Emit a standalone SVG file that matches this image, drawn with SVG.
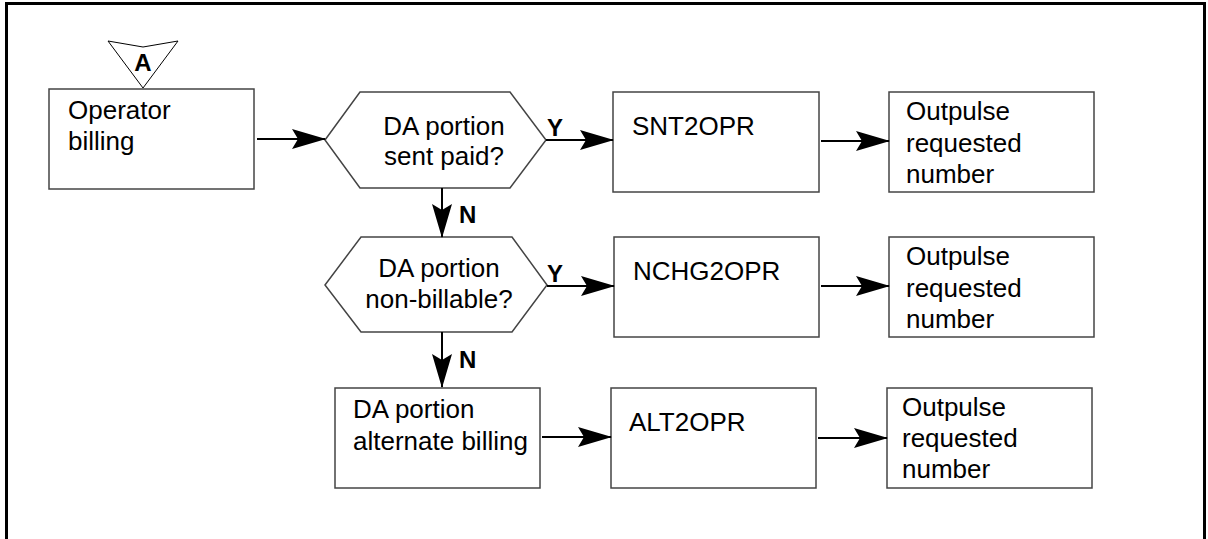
<svg xmlns="http://www.w3.org/2000/svg" width="1208" height="539" viewBox="0 0 1208 539">
<style>
.box{fill:#fff;stroke:#444;stroke-width:1.5}
.t{font-family:"Liberation Sans",Arial,sans-serif;font-size:26px;fill:#000}
.b{font-family:"Liberation Sans",Arial,sans-serif;font-size:24px;font-weight:bold;fill:#000}
.c{stroke:#000;stroke-width:2;fill:none;marker-end:url(#ah)}
</style>
<defs>
<marker id="ah" viewBox="0 0 34 22" refX="33" refY="11" markerWidth="34" markerHeight="22" markerUnits="userSpaceOnUse" orient="auto">
<path d="M0,1 L34,11 L0,21 L6,11 Z" fill="#000"/>
</marker>
</defs>
<rect x="6.5" y="3.5" width="1198" height="560" fill="#fff" stroke="#000" stroke-width="3"/>

<g id="connector-A">
<polygon points="108,41 143,47 178,41 143,88" fill="#fff" stroke="#000" stroke-width="1"/>
<text class="b" x="143" y="71" text-anchor="middle">A</text>
</g>

<g id="operator-billing">
<rect class="box" x="49" y="89" width="205" height="100"/>
<text class="t" x="68" y="119">Operator</text>
<text class="t" x="68" y="150">billing</text>
</g>

<g id="decision-sent-paid">
<polygon class="box" points="325,140 360,92 510,92 546,140 510,188 360,188"/>
<text class="t" x="444" y="135" text-anchor="middle">DA portion</text>
<text class="t" x="444" y="165" text-anchor="middle">sent paid?</text>
</g>

<g id="snt2opr">
<rect class="box" x="613" y="92" width="206" height="100"/>
<text class="t" x="632" y="135">SNT2OPR</text>
</g>

<g id="outpulse-1">
<rect class="box" x="889" y="92" width="205" height="100"/>
<text class="t" x="906" y="120">Outpulse</text>
<text class="t" x="906" y="152">requested</text>
<text class="t" x="906" y="183">number</text>
</g>

<g id="decision-non-billable">
<polygon class="box" points="325,285 361,237 512,237 547,285 512,332 361,332"/>
<text class="t" x="439" y="277" text-anchor="middle">DA portion</text>
<text class="t" x="439" y="308" text-anchor="middle">non-billable?</text>
</g>

<g id="nchg2opr">
<rect class="box" x="614" y="237" width="205" height="100"/>
<text class="t" x="633" y="280">NCHG2OPR</text>
</g>

<g id="outpulse-2">
<rect class="box" x="889" y="237" width="205" height="100"/>
<text class="t" x="906" y="265">Outpulse</text>
<text class="t" x="906" y="297">requested</text>
<text class="t" x="906" y="328">number</text>
</g>

<g id="alternate-billing">
<rect class="box" x="335" y="388" width="205" height="100"/>
<text class="t" x="353" y="418">DA portion</text>
<text class="t" x="353" y="450">alternate billing</text>
</g>

<g id="alt2opr">
<rect class="box" x="611" y="388" width="205" height="100"/>
<text class="t" x="629" y="431">ALT2OPR</text>
</g>

<g id="outpulse-3">
<rect class="box" x="887" y="388" width="205" height="100"/>
<text class="t" x="902" y="416">Outpulse</text>
<text class="t" x="902" y="447">requested</text>
<text class="t" x="902" y="478">number</text>
</g>

<g id="connectors">
<line class="c" x1="257" y1="139" x2="325" y2="139"/>
<line class="c" x1="546" y1="140" x2="613" y2="140"/>
<line class="c" x1="821" y1="141" x2="889" y2="141"/>
<line class="c" x1="442" y1="188" x2="442" y2="237"/>
<line class="c" x1="547" y1="286" x2="614" y2="286"/>
<line class="c" x1="821" y1="286" x2="889" y2="286"/>
<line class="c" x1="442" y1="332" x2="442" y2="387"/>
<line class="c" x1="542" y1="437" x2="611" y2="437"/>
<line class="c" x1="818" y1="438" x2="887" y2="438"/>
<text class="b" x="547" y="136">Y</text>
<text class="b" x="547" y="282">Y</text>
<text class="b" x="459" y="223">N</text>
<text class="b" x="459" y="368">N</text>
</g>
</svg>
